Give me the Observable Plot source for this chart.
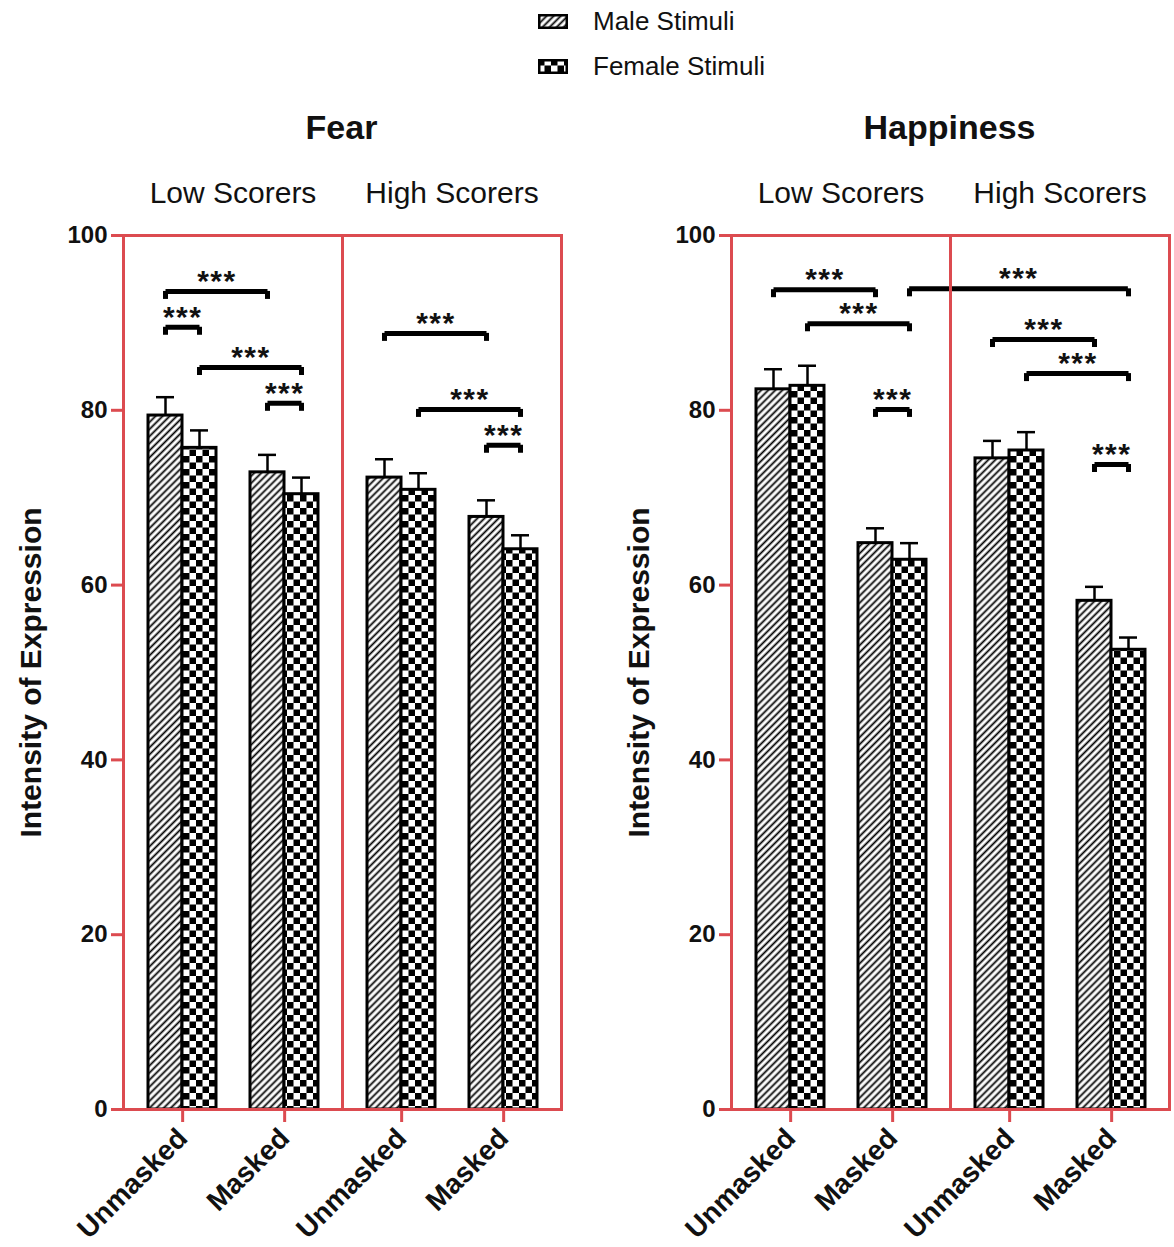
<!DOCTYPE html>
<html>
<head>
<meta charset="utf-8">
<script src="https://cdn.jsdelivr.net/npm/d3@7"></script>
<script src="https://cdn.jsdelivr.net/npm/@observablehq/plot@0.6"></script>
<style>
  body { margin: 0; background: #fff; font-family: "Liberation Sans", Arial, sans-serif; width: 1174px; height: 1247px; overflow: hidden; }
  #legend { height: 97px; position: relative; }
  .leg { position: absolute; left: 538px; height: 30px; display: flex; align-items: center; font-size: 26px; color: #111; }
  .leg svg { margin-right: 25px; }
  #panels { display: flex; }
  .title { font-weight: bold; font-size: 34px; height: 60px; line-height: 60px; text-align: center; color: #111; }
  .stars text { letter-spacing: 1.5px; }
</style>
</head>
<body>
<svg width="0" height="0" style="position:absolute">
  <defs>
    <pattern id="hatch" patternUnits="userSpaceOnUse" width="5" height="5" patternTransform="rotate(45)">
      <rect width="5" height="5" fill="#fff"></rect>
      <line x1="2.5" y1="0" x2="2.5" y2="5" stroke="#000" stroke-width="1.8"></line>
    </pattern>
    <pattern id="checker" patternUnits="userSpaceOnUse" width="13" height="13">
      <rect width="13" height="13" fill="#fff"></rect>
      <rect width="6.5" height="6.5" fill="#000"></rect>
      <rect x="6.5" y="6.5" width="6.5" height="6.5" fill="#000"></rect>
    </pattern>
  </defs>
</svg>
<div id="legend"></div>
<div id="panels"></div>
<script>
// ---------------- data ----------------
const scorers = ["Low Scorers", "High Scorers"];
const conditions = ["Unmasked", "Masked"];
const sexes = ["Male", "Female"];
const legendLabels = ["Male Stimuli", "Female Stimuli"];
const panelTitles = ["Fear", "Happiness"];
const yTicks = [0, 20, 40, 60, 80, 100];
const yLabel = "Intensity of Expression";
const starText = "***";

// order of values: scorer (Low, High) × condition (Unmasked, Masked) × sex (Male, Female)
const fearMean  = [79.4, 75.7, 72.9, 70.4, 72.3, 70.9, 67.8, 64.1];
const fearUpper = [81.5, 77.7, 74.9, 72.3, 74.4, 72.8, 69.7, 65.7];
const happyMean  = [82.4, 82.8, 64.8, 62.9, 74.5, 75.4, 58.2, 52.6];
const happyUpper = [84.7, 85.1, 66.5, 64.8, 76.5, 77.5, 59.8, 54.0];

// significance brackets: [from [scorer, condition, sex], to [scorer, condition, sex], height]
const fearBrackets = [
  [["Low Scorers", "Unmasked", "Male"],   ["Low Scorers", "Masked", "Male"],     93.6],
  [["Low Scorers", "Unmasked", "Male"],   ["Low Scorers", "Unmasked", "Female"], 89.5],
  [["Low Scorers", "Unmasked", "Female"], ["Low Scorers", "Masked", "Female"],   84.9],
  [["Low Scorers", "Masked", "Male"],     ["Low Scorers", "Masked", "Female"],   80.8],
  [["High Scorers", "Unmasked", "Male"],  ["High Scorers", "Masked", "Male"],    88.8],
  [["High Scorers", "Unmasked", "Female"],["High Scorers", "Masked", "Female"],  80.1],
  [["High Scorers", "Masked", "Male"],    ["High Scorers", "Masked", "Female"],  76.0]
];
const happyBrackets = [
  [["Low Scorers", "Unmasked", "Male"],   ["Low Scorers", "Masked", "Male"],     93.8],
  [["Low Scorers", "Unmasked", "Female"], ["Low Scorers", "Masked", "Female"],   89.9],
  [["Low Scorers", "Masked", "Female"],   ["High Scorers", "Masked", "Female"],  93.9],
  [["High Scorers", "Unmasked", "Male"],  ["High Scorers", "Masked", "Male"],    88.1],
  [["High Scorers", "Unmasked", "Female"],["High Scorers", "Masked", "Female"],  84.2],
  [["Low Scorers", "Masked", "Male"],     ["Low Scorers", "Masked", "Female"],   80.1],
  [["High Scorers", "Masked", "Male"],    ["High Scorers", "Masked", "Female"],  73.8]
];

// ---------------- layout ----------------
const RED = "#dc4b50";
const FONT = "'Liberation Sans', Arial, sans-serif";
const MARGIN_LEFT = 122;
const FRAME_W = 439;
const FACET_W = FRAME_W / 2;
const PO = 0.7;                       // outer padding of the sub-bar band scale
const xDomain = ["Unmasked|Male", "Unmasked|Female", "gap", "Masked|Male", "Masked|Female"];
const SLOT = FACET_W / (xDomain.length + 2 * PO);
const SVG_H = 1090;
const M_TOP = 78, M_BOTTOM = 138;

const keyOf = (c, s) => c + "|" + s;

function rowsOf(mean, upper) {
  return mean.map((m, i) => ({
    scorer: scorers[i >> 2],
    condition: conditions[(i >> 1) & 1],
    sex: sexes[i & 1],
    key: keyOf(conditions[(i >> 1) & 1], sexes[i & 1]),
    mean: m,
    upper: upper[i]
  }));
}

function bracketMarks(list) {
  const out = [];
  const ends = [];
  const starStyle = {text: () => starText, fontSize: 30, fontWeight: "bold", fill: "#111", className: "stars"};
  const first = xDomain[0], last = xDomain[xDomain.length - 1];
  for (const [a, b, y] of list) {
    const s1 = a[0], k1 = keyOf(a[1], a[2]);
    const s2 = b[0], k2 = keyOf(b[1], b[2]);
    ends.push({scorer: s1, key: k1, y}, {scorer: s2, key: k2, y});
    const i1 = xDomain.indexOf(k1), i2 = xDomain.indexOf(k2);
    if (s1 === s2) {
      out.push(Plot.link([{scorer: s1, k1, k2, y}], {fx: "scorer", x1: "k1", x2: "k2", y1: "y", y2: "y", stroke: "#000", strokeWidth: 5}));
      out.push(Plot.text([{scorer: s1, k: k1, y}], {fx: "scorer", x: "k", y: "y", dx: (i2 - i1) * SLOT / 2, dy: -10, ...starStyle}));
    } else {
      const f1 = scorers.indexOf(s1), f2 = scorers.indexOf(s2);
      // left piece: from bar centre to the right edge of its facet
      out.push(Plot.ruleY([{scorer: s1, k: k1, e: last, y}], {fx: "scorer", x1: "k", x2: "e", y: "y", insetLeft: SLOT / 2, insetRight: -PO * SLOT, stroke: "#000", strokeWidth: 5}));
      // right piece: from the left edge of its facet to bar centre
      out.push(Plot.ruleY([{scorer: s2, k: k2, e: first, y}], {fx: "scorer", x1: "e", x2: "k", y: "y", insetLeft: -PO * SLOT, insetRight: SLOT / 2, stroke: "#000", strokeWidth: 5}));
      const c1 = f1 * FACET_W + (PO + i1 + 0.5) * SLOT;
      const c2 = f2 * FACET_W + (PO + i2 + 0.5) * SLOT;
      out.push(Plot.text([{scorer: s2, k: k2, y}], {fx: "scorer", x: "k", y: "y", dx: (c1 - c2) / 2, dy: -10, ...starStyle}));
    }
  }
  out.push(Plot.ruleX(ends, {fx: "scorer", x: "key", y1: "y", y2: "y", insetTop: 8, stroke: "#000", strokeWidth: 5}));
  return out;
}

function panel(title, mean, upper, brackets, width, marginRight) {
  const rows = rowsOf(mean, upper);
  const wrap = document.createElement("div");
  wrap.style.width = width + "px";
  const t = document.createElement("div");
  t.className = "title";
  t.style.marginLeft = MARGIN_LEFT + "px";
  t.style.width = FRAME_W + "px";
  t.textContent = title;
  wrap.appendChild(t);

  const chart = Plot.plot({
    width, height: SVG_H,
    marginLeft: MARGIN_LEFT, marginRight, marginTop: M_TOP, marginBottom: M_BOTTOM,
    style: {fontFamily: FONT, color: "#111", background: "white", overflow: "visible"},
    fx: {domain: scorers, padding: 0},
    x: {domain: xDomain, paddingInner: 0, paddingOuter: PO},
    y: {domain: [0, 100]},
    marks: [
      Plot.barY(rows.filter(d => d.sex === "Male"), {fx: "scorer", x: "key", y: "mean", fill: "url(#hatch)", stroke: "#000", strokeWidth: 3}),
      Plot.barY(rows.filter(d => d.sex === "Female"), {fx: "scorer", x: "key", y: "mean", fill: "url(#checker)", stroke: "#000", strokeWidth: 3}),
      Plot.ruleX(rows, {fx: "scorer", x: "key", y1: "mean", y2: "upper", stroke: "#000", strokeWidth: 2.5}),
      Plot.tickY(rows, {fx: "scorer", x: "key", y: "upper", stroke: "#000", strokeWidth: 2.5, insetLeft: 8, insetRight: 8}),
      ...bracketMarks(brackets),
      Plot.frame({stroke: RED, strokeWidth: 3}),
      Plot.axisFx({anchor: "top", tickSize: 0, tickPadding: 33, fontSize: 30, label: null}),
      Plot.axisY({ticks: yTicks, tickSize: 12, tickPadding: 4, stroke: RED, strokeWidth: 3, fontSize: 24, fontWeight: "bold", label: null}),
      Plot.axisX({ticks: [keyOf("Unmasked", "Male"), keyOf("Masked", "Male")], tickFormat: d => d.split("|")[0],
                  tickRotate: -45, tickSize: 13, tickPadding: 11, stroke: RED, strokeWidth: 3,
                  fontSize: 28, fontWeight: "bold", label: null, dx: SLOT / 2}),
      Plot.text([yLabel], {fx: () => scorers[0], frameAnchor: "left", textAnchor: "middle", rotate: -90, dx: -92, text: d => d, fontSize: 30, fontWeight: "bold", fill: "#111"})
    ]
  });
  wrap.appendChild(chart);
  return wrap;
}

// legend
const legend = document.getElementById("legend");
legendLabels.forEach((lab, i) => {
  const row = document.createElement("div");
  row.className = "leg";
  row.style.top = (6 + i * 45) + "px";
  const pat = i === 0 ? "hatch" : "checker";
  row.innerHTML = `<svg width="30" height="15"><rect x="1.25" y="1.25" width="27.5" height="12.5" fill="url(#${pat})" stroke="#000" stroke-width="2.5"></rect></svg><span>${lab}</span>`;
  legend.appendChild(row);
});

const panels = document.getElementById("panels");
panels.appendChild(panel(panelTitles[0], fearMean, fearUpper, fearBrackets, 608, 47));
panels.appendChild(panel(panelTitles[1], happyMean, happyUpper, happyBrackets, 566, 5));
</script>
</body>
</html>
